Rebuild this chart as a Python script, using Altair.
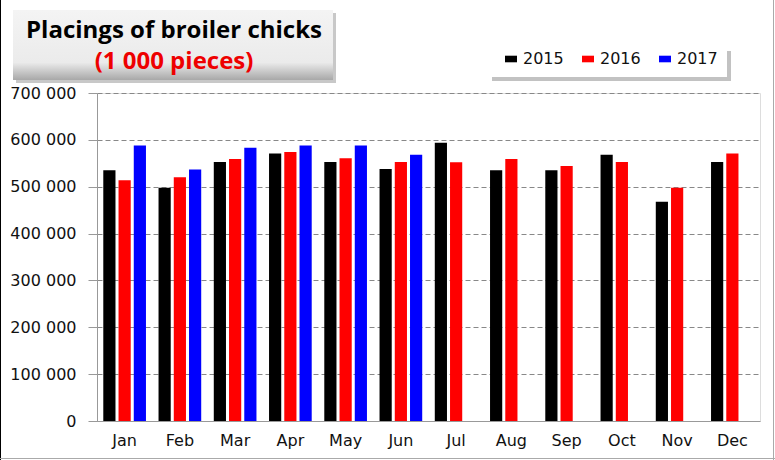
import altair as alt
import pandas as pd

months = ["Jan", "Feb", "Mar", "Apr", "May", "Jun", "Jul", "Aug", "Sep", "Oct", "Nov", "Dec"]
years = ["2015", "2016", "2017"]
colors = ["#000000", "#ff0000", "#0000ff"]
y2015 = [535000, 498000, 553000, 571000, 553000, 538000, 594000, 535000, 535000, 568000, 468000, 553000]
y2016 = [514000, 520000, 559000, 574000, 561000, 553000, 552000, 559000, 544000, 553000, 498000, 571000]
y2017 = [588000, 537000, 583000, 588000, 588000, 568000]
y_ticks = [0, 100000, 200000, 300000, 400000, 500000, 600000, 700000]
title_text = "Placings of broiler chicks"
subtitle_text = "(1 000 pieces)"

rows = []
for yr, vals in zip(years, [y2015, y2016, y2017]):
    for m, v in zip(months, vals):
        rows.append({"month": m, "year": yr, "value": v})
df = pd.DataFrame(rows)

one = pd.DataFrame({"k": [0]})

# decorations (pixel positions relative to the plot origin)
title_shadow = alt.Chart(one).mark_rect(fill="#9a9a9a", opacity=0.55).encode(
    x=alt.value(-81), x2=alt.value(239), y=alt.value(-80), y2=alt.value(-10))
title_box = alt.Chart(one).mark_rect(
    fill=alt.Gradient(gradient="linear", x1=0, x2=0, y1=0, y2=1,
                      stops=[alt.GradientStop(offset=0, color="#f4f4f4"),
                             alt.GradientStop(offset=0.75, color="#ebebeb"),
                             alt.GradientStop(offset=1, color="#a8a8a8")])
).encode(x=alt.value(-84), x2=alt.value(236), y=alt.value(-83), y2=alt.value(-13))
title_mark = alt.Chart(one).mark_text(
    text=title_text, font="Open Sans", fontSize=24, fontWeight="bold", color="#000000",
    align="center", baseline="alphabetic").encode(x=alt.value(77), y=alt.value(-55))
subtitle_mark = alt.Chart(one).mark_text(
    text=subtitle_text, font="Open Sans", fontSize=24, fontWeight="bold", color="#ee0000",
    align="center", baseline="alphabetic").encode(x=alt.value(77), y=alt.value(-24))
leg_shadow = alt.Chart(one).mark_rect(fill="#9a9a9a", opacity=0.6).encode(
    x=alt.value(395), x2=alt.value(634), y=alt.value(-42), y2=alt.value(-12))
leg_box = alt.Chart(one).mark_rect(fill="white").encode(
    x=alt.value(391), x2=alt.value(630), y=alt.value(-46), y2=alt.value(-16))
left_border = alt.Chart(one).mark_rule(color="#000000", strokeWidth=1).encode(
    x=alt.value(-96.5), y=alt.value(-93), y2=alt.value(367))
right_border = alt.Chart(one).mark_rule(color="#aaaaaa", strokeWidth=1).encode(
    x=alt.value(676.5), y=alt.value(-93), y2=alt.value(367))
bottom_border = alt.Chart(one).mark_rule(color="#aaaaaa", strokeWidth=1).encode(
    x=alt.value(-97), x2=alt.value(678), y=alt.value(365.5))

bars = alt.Chart(df).mark_bar().encode(
    x=alt.X("month:N", sort=months,
            scale=alt.Scale(paddingInner=0.2, paddingOuter=0.1),
            axis=alt.Axis(title=None, labelAngle=0, ticks=False, domainColor="#999999",
                          labelFont="DejaVu Sans", labelFontSize=16, labelColor="#111111",
                          labelPadding=11, grid=False)),
    xOffset=alt.XOffset("year:N", sort=years,
                        scale=alt.Scale(domain=years, paddingInner=0.2, paddingOuter=0.05)),
    y=alt.Y("value:Q", scale=alt.Scale(domain=[0, 700000], nice=False),
            axis=alt.Axis(title=None, values=y_ticks,
                          labelExpr="replace(format(datum.value, ','), ',', ' ')",
                          labelFont="DejaVu Sans", labelFontSize=16, labelColor="#111111",
                          labelPadding=12, tickSize=9, tickColor="#999999",
                          domainColor="#999999", gridColor="#888888", gridDash=[5, 3])),
    color=alt.Color("year:N", sort=years,
                    scale=alt.Scale(domain=years, range=colors),
                    legend=alt.Legend(title=None, orient="none", legendX=406, legendY=-42,
                                      direction="horizontal", padding=0,
                                      symbolType="M-1,-0.55H1V0.55H-1Z", symbolSize=144,
                                      symbolStrokeWidth=0, labelFont="DejaVu Sans",
                                      labelFontSize=16, labelColor="#111111",
                                      labelOffset=4, columnPadding=16)),
)

chart = alt.layer(
    left_border, right_border, bottom_border,
    title_shadow, title_box, title_mark, subtitle_mark, leg_shadow, leg_box, bars
).properties(
    width=663, height=328,
    padding={"left": 97, "top": 93, "right": 15, "bottom": 39},
    autosize=alt.AutoSizeParams(type="none"),
).configure_view(stroke=None).configure(background="white")

chart.save("out.html", embed_options={"renderer": "svg", "actions": False})
